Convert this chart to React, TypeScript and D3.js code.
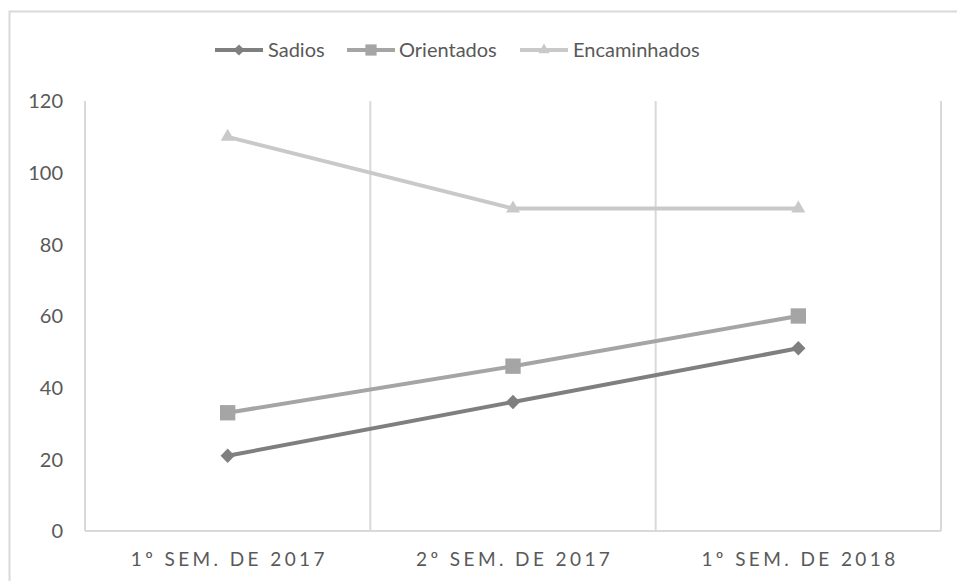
import { useEffect, useRef } from "react";
import * as d3 from "d3";

const categories = ["1º SEM. DE 2017", "2º SEM. DE 2017", "1º SEM. DE 2018"];
const sadios = [21, 36, 51];
const orientados = [33, 46, 60];
const encaminhados = [110, 90, 90];
const yTicks = [0, 20, 40, 60, 80, 100, 120];

const series = [
  { name: "Sadios", values: sadios, color: "#7f7f7f", shape: "diamond" },
  { name: "Orientados", values: orientados, color: "#a5a5a5", shape: "square" },
  { name: "Encaminhados", values: encaminhados, color: "#c9c9c9", shape: "triangle" },
];

const W = 957;
const H = 581;
const FONT = "Lato, sans-serif";

function symbolType(shape: string) {
  if (shape === "diamond") return d3.symbolDiamond2;
  if (shape === "square") return d3.symbolSquare2;
  return d3.symbolTriangle2;
}

export default function App() {
  const svgRef = useRef<SVGSVGElement | null>(null);

  useEffect(() => {
    const svg = d3.select(svgRef.current);
    svg.selectAll("*").remove();

    const margin = { top: 101, right: 16, bottom: 50, left: 85 };

    // outer chart border
    svg.append("rect")
      .attr("x", 9.5).attr("y", 11.5)
      .attr("width", W + 20).attr("height", H + 20)
      .attr("fill", "white")
      .attr("stroke", "#d9d9d9")
      .attr("stroke-width", 2);

    const x = d3.scaleBand()
      .domain(categories)
      .range([margin.left, W - margin.right]);

    const y = d3.scaleLinear()
      .domain([0, 120])
      .range([H - margin.bottom, margin.top]);

    // vertical grid lines at category boundaries
    const bounds = categories.map((c) => (x(c) as number) + x.bandwidth());
    svg.append("g")
      .selectAll("line")
      .data(bounds)
      .join("line")
      .attr("x1", (d) => d).attr("x2", (d) => d)
      .attr("y1", y(120)).attr("y2", y(0))
      .attr("stroke", "#d9d9d9")
      .attr("stroke-width", 2);

    // left + bottom axis lines
    svg.append("line")
      .attr("x1", margin.left).attr("x2", margin.left)
      .attr("y1", y(120)).attr("y2", y(0))
      .attr("stroke", "#d9d9d9").attr("stroke-width", 2);
    svg.append("line")
      .attr("x1", margin.left).attr("x2", W - margin.right)
      .attr("y1", y(0)).attr("y2", y(0))
      .attr("stroke", "#d9d9d9").attr("stroke-width", 2);

    // y tick labels
    svg.append("g")
      .selectAll("text")
      .data(yTicks)
      .join("text")
      .attr("x", 63)
      .attr("y", (d) => y(d))
      .attr("dy", "0.36em")
      .attr("text-anchor", "end")
      .attr("font-family", FONT)
      .attr("font-size", 20)
      .attr("fill", "#595959")
      .text((d) => d);

    // x labels (wide letter spacing, like the original)
    const spacing = 3.4;
    svg.append("g")
      .selectAll("text")
      .data(categories)
      .join("text")
      .attr("x", (d) => (x(d) as number) + x.bandwidth() / 2 + spacing / 2)
      .attr("y", y(0) + 35)
      .attr("text-anchor", "middle")
      .attr("font-family", FONT)
      .attr("font-size", 19)
      .attr("letter-spacing", spacing)
      .attr("fill", "#595959")
      .text((d) => d);

    const cx = (i: number) => (x(categories[i]) as number) + x.bandwidth() / 2;

    const line = d3.line<number>()
      .x((_, i) => cx(i))
      .y((d) => y(d));

    const markerSize: Record<string, number> = { diamond: 130, square: 300, triangle: 140 };

    series.forEach((s) => {
      svg.append("path")
        .datum(s.values)
        .attr("fill", "none")
        .attr("stroke", s.color)
        .attr("stroke-width", 4)
        .attr("d", line);

      svg.append("g")
        .selectAll("path")
        .data(s.values)
        .join("path")
        .attr("transform", (d, i) => `translate(${cx(i)},${y(d)})`)
        .attr("d", d3.symbol(symbolType(s.shape), markerSize[s.shape])()!)
        .attr("fill", s.color);
    });

    // legend
    const legendItems = [
      { x: 215, textX: 268 },
      { x: 347, textX: 399 },
      { x: 520, textX: 573 },
    ];
    const legendSize: Record<string, number> = { diamond: 80, square: 160, triangle: 90 };
    const ly = 50;
    series.forEach((s, i) => {
      const g = svg.append("g");
      const lx = legendItems[i].x;
      g.append("line")
        .attr("x1", lx).attr("x2", lx + 48)
        .attr("y1", ly).attr("y2", ly)
        .attr("stroke", s.color)
        .attr("stroke-width", 4);
      g.append("path")
        .attr("transform", `translate(${lx + 24},${ly})`)
        .attr("d", d3.symbol(symbolType(s.shape), legendSize[s.shape])()!)
        .attr("fill", s.color);
      g.append("text")
        .attr("x", legendItems[i].textX)
        .attr("y", ly)
        .attr("dy", "0.36em")
        .attr("font-family", FONT)
        .attr("font-size", 20)
        .attr("fill", "#595959")
        .text(s.name);
    });
  }, []);

  return (
    <svg
      ref={svgRef}
      width={W}
      height={H}
      style={{ position: "absolute", left: 0, top: 0, background: "white" }}
    />
  );
}
